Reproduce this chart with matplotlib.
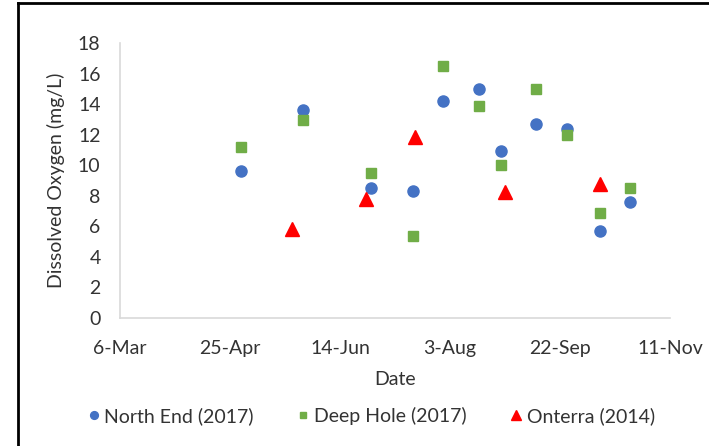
import matplotlib
matplotlib.use("Agg")
import matplotlib.pyplot as plt
from matplotlib.lines import Line2D
from datetime import datetime, timedelta

plt.rcParams['font.family'] = ['Lato', 'DejaVu Sans']

# Data (all placed on a common March–November axis)
north_dates = ["2017-04-30", "2017-05-28", "2017-06-28", "2017-07-17", "2017-07-31",
               "2017-08-16", "2017-08-26", "2017-09-11", "2017-09-25", "2017-10-10", "2017-10-24"]
north_do = [9.6, 13.6, 8.5, 8.3, 14.2, 15.0, 10.9, 12.7, 12.4, 5.7, 7.6]

deep_dates = north_dates
deep_do = [11.2, 12.95, 9.5, 5.4, 16.5, 13.9, 10.0, 15.0, 12.0, 6.85, 8.5]

onterra_dates = ["2017-05-23", "2017-06-26", "2017-07-18", "2017-08-28", "2017-10-10"]
onterra_do = [5.8, 7.8, 11.85, 8.25, 8.8]

x_min, x_max = "2017-03-06", "2017-11-11"
y_ticks = [0, 2, 4, 6, 8, 10, 12, 14, 16, 18]

def to_dt(lst):
    return [datetime.strptime(s, "%Y-%m-%d") for s in lst]

fs = 14
fig = plt.figure(figsize=(7.09, 4.46), dpi=100)
ax = fig.add_axes([120/709, 1-318/446, 550/709, 275/446])

ax.plot(to_dt(north_dates), north_do, 'o', color='#4472C4', markersize=8, label='North End (2017)')
ax.plot(to_dt(deep_dates), deep_do, 's', color='#70AD47', markersize=6.5, label='Deep Hole (2017)')
ax.plot(to_dt(onterra_dates), onterra_do, '^', color='#FF0000', markersize=10, label='Onterra (2014)')

xs = datetime.strptime(x_min, "%Y-%m-%d")
xe = datetime.strptime(x_max, "%Y-%m-%d")
ax.set_xlim(xs, xe)
ticks = [xs + timedelta(days=50*i) for i in range(6)]
ax.set_xticks(ticks)
ax.set_xticklabels([f"{d.day}-{d.strftime('%b')}" for d in ticks])
ax.set_ylim(0, 18)
ax.set_yticks(y_ticks)

for s in ['top', 'right']:
    ax.spines[s].set_visible(False)
for s in ['left', 'bottom']:
    ax.spines[s].set_color('#D9D9D9')
    ax.spines[s].set_linewidth(1.2)
ax.tick_params(length=0, labelsize=fs, colors='#333333')
ax.tick_params(axis='y', pad=14)
ax.tick_params(axis='x', pad=16)

ax.set_xlabel('Date', fontsize=fs, color='#333333', labelpad=10)
ax.set_ylabel('Dissolved Oxygen (mg/L)', fontsize=fs, color='#333333', labelpad=9)

leg = fig.legend(loc='center', bbox_to_anchor=(372/709, 1-416/446), ncol=3, frameon=False,
                 fontsize=fs, markerscale=0.7, handlelength=0.5, handletextpad=0.3,
                 columnspacing=2.3)
for t in leg.get_texts():
    t.set_color('#333333')

# outer chart-frame edges visible at top and left
fig.add_artist(Line2D([18/709, 18/709], [0, 1-3/446], color='black', linewidth=2.0))
fig.add_artist(Line2D([18/709, 1], [1-3/446, 1-3/446], color='black', linewidth=2.0))

fig.savefig('out.png', dpi=100)
